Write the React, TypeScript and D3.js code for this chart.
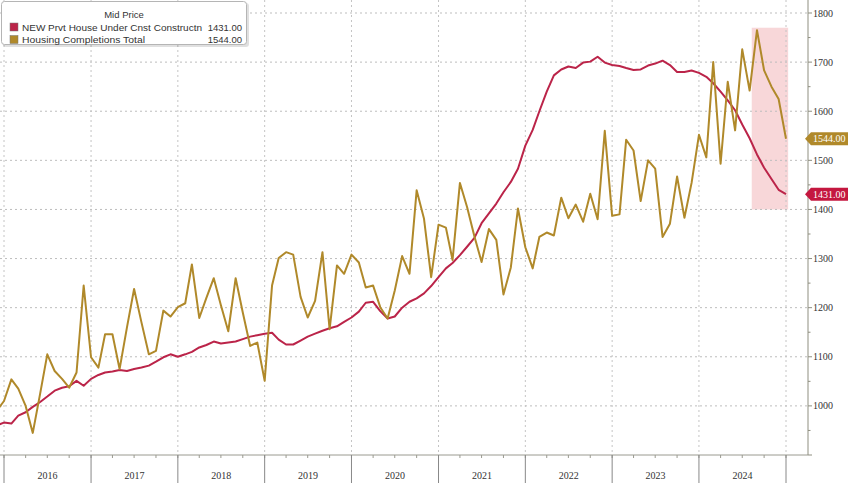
import React from "react";
import * as d3 from "d3";

// ---- data (monthly, first month = Nov 2015) ----
const startMonth = "2015-11";
const underConstruction = [
  960,
  966, 964, 980, 987, 998, 1008, 1019, 1031, 1037, 1040, 1051, 1041,
  1055, 1063, 1068, 1070, 1073, 1071, 1075, 1078, 1082, 1090, 1099, 1105,
  1100, 1105, 1110, 1119, 1124, 1131, 1127, 1129, 1131, 1136, 1141, 1144,
  1147, 1149, 1135, 1125, 1125, 1133, 1141, 1147, 1153, 1158, 1162, 1171,
  1180, 1192, 1210, 1212, 1193, 1178, 1182, 1200, 1212, 1219, 1229, 1244,
  1262, 1280, 1291, 1307, 1324, 1342, 1372, 1392, 1412, 1435, 1456, 1483,
  1530, 1562, 1600, 1640, 1673, 1685, 1691, 1688, 1699, 1701, 1711, 1699,
  1694, 1692, 1688, 1684, 1685, 1693, 1697, 1703, 1694, 1680, 1680, 1683,
  1678, 1670, 1657, 1640, 1622, 1602, 1573, 1545, 1512, 1485, 1462, 1440,
  1431,
];
const completions = [
  990,
  1010, 1054, 1035, 1000, 945, 1025, 1105, 1071, 1055, 1037, 1068, 1245,
  1099, 1078, 1146, 1146, 1075, 1160, 1238, 1170, 1105, 1112, 1194, 1182,
  1201, 1209, 1288, 1179, 1220, 1260, 1205, 1152, 1260, 1190, 1122, 1129,
  1051, 1245, 1301, 1313, 1308, 1222, 1180, 1214, 1313, 1156, 1286, 1269,
  1308, 1292, 1241, 1245, 1201, 1178, 1235, 1305, 1269, 1439, 1381, 1262,
  1369, 1363, 1297, 1454, 1405, 1345, 1293, 1360, 1338, 1227, 1282, 1402,
  1323, 1280, 1344, 1353, 1347, 1424, 1382, 1410, 1375, 1432, 1380, 1560,
  1387, 1390, 1542, 1520, 1417, 1500, 1483, 1344, 1371, 1467, 1383, 1454,
  1552, 1506, 1700, 1493, 1660, 1561, 1726, 1642, 1765, 1683, 1650, 1625,
  1544,
];
const seriesNames = ["NEW Prvt House Under Cnst Constructn", "Housing Completions Total"];
const seriesColors = ["#bb2449", "#b0892a"];
const legendTitle = "Mid Price";
const yTicks = [1000, 1100, 1200, 1300, 1400, 1500, 1600, 1700, 1800];
const yearLabels = ["2016", "2017", "2018", "2019", "2020", "2021", "2022", "2023", "2024"];
const shadeDates = ["2024-08-10", "2025-01-10"];
const shadeValues = [1400, 1770];

const W = 848;
const H = 483;
const plotRight = 808;
const plotBottom = 455;

export default function App() {
  const parseM = d3.timeParse("%Y-%m");
  const parseD = d3.timeParse("%Y-%m-%d");
  const start = parseM(startMonth)!;
  // monthly observations plotted at month end
  const dates = completions.map((_, i) => d3.timeMonth.offset(start, i + 1));

  const x = d3
    .scaleTime()
    .domain([new Date(2016, 0, 1), new Date(2025, 0, 1)])
    .range([4, 786]);
  const y = d3.scaleLinear().domain([900, 1800]).range([plotBottom, 13]);

  const line = d3
    .line<number>()
    .x((_, i) => x(dates[i]))
    .y((d) => y(d));

  const yearBounds = d3.timeYear.range(new Date(2016, 0, 1), new Date(2025, 0, 2));
  const quarterTicks = d3.timeMonth.every(3)!.range(new Date(2016, 0, 1), new Date(2025, 0, 2));
  const minorY = d3.range(950, 1800, 100);

  const fmt = d3.format(".2f");
  const lastVals = [underConstruction[underConstruction.length - 1], completions[completions.length - 1]];

  const axisFont = "'Liberation Serif', 'DejaVu Serif', serif";
  const legendFont = "'Liberation Sans', Arial, sans-serif";

  const tag = (v: number, color: string, label: string) => {
    const cy = y(v);
    const h = 6.5;
    return (
      <g key={label}>
        <path
          d={`M${plotRight - 3},${cy} L${plotRight + 3},${cy - h} L${W},${cy - h} L${W},${cy + h} L${plotRight + 3},${cy + h} Z`}
          fill={color}
        />
        <text x={plotRight + 5} y={cy + 3.6} fill="#fff" fontSize={10} fontFamily={axisFont}>
          {label}
        </text>
      </g>
    );
  };

  return (
    <div style={{ position: "fixed", left: 0, top: 0, width: W, height: H, background: "#fff" }}>
      <svg width={W} height={H} style={{ display: "block" }}>
        <defs>
          <clipPath id="plotClip">
            <rect x={0} y={0} width={plotRight} height={plotBottom} />
          </clipPath>
        </defs>
        <rect x={0} y={0} width={W} height={H} fill="#fff" />

        {/* shaded region */}
        <rect
          x={x(parseD(shadeDates[0])!)}
          y={y(shadeValues[1])}
          width={x(parseD(shadeDates[1])!) - x(parseD(shadeDates[0])!)}
          height={y(shadeValues[0]) - y(shadeValues[1])}
          fill="#f6c9cc"
          opacity={0.75}
        />

        {/* gridlines */}
        {yTicks.map((t) => (
          <line key={"gy" + t} x1={0} x2={plotRight} y1={y(t)} y2={y(t)} stroke="#bdbdbd" strokeDasharray="2,3" />
        ))}
        {yearBounds.map((d, i) => (
          <line key={"gx" + i} x1={x(d)} x2={x(d)} y1={0} y2={plotBottom} stroke="#c4c4c4" strokeDasharray="2,3" />
        ))}

        {/* series */}
        <g clipPath="url(#plotClip)">
          <path d={line(underConstruction) || ""} fill="none" stroke={seriesColors[0]} strokeWidth={2} strokeLinejoin="round" />
          <path d={line(completions) || ""} fill="none" stroke={seriesColors[1]} strokeWidth={2} strokeLinejoin="round" />
        </g>

        {/* bottom axis */}
        <line x1={0} x2={plotRight} y1={plotBottom} y2={plotBottom} stroke="#9a9a90" />
        {quarterTicks.map((d, i) => (
          <line key={"qt" + i} x1={x(d)} x2={x(d)} y1={plotBottom} y2={plotBottom + 3} stroke="#9a9a90" />
        ))}
        {yearBounds.map((d, i) => (
          <line key={"yd" + i} x1={x(d)} x2={x(d)} y1={plotBottom} y2={H} stroke="#888" />
        ))}
        {yearLabels.map((lab, i) => (
          <text
            key={lab}
            x={(x(yearBounds[i]) + x(yearBounds[i + 1])) / 2}
            y={479}
            textAnchor="middle"
            fontSize={10}
            fontFamily={axisFont}
            fill="#333"
          >
            {lab}
          </text>
        ))}

        {/* right axis */}
        <line x1={plotRight} x2={plotRight} y1={0} y2={plotBottom} stroke="#8f8f80" />
        {yTicks.map((t) => (
          <g key={"yt" + t}>
            <line x1={plotRight} x2={plotRight + 4} y1={y(t)} y2={y(t)} stroke="#8f8f80" />
            <text x={plotRight + 5} y={y(t) + 3.5} fontSize={10} fontFamily={axisFont} fill="#333">
              {t}
            </text>
          </g>
        ))}
        {minorY.map((t) => (
          <line key={"my" + t} x1={plotRight} x2={plotRight + 2.5} y1={y(t)} y2={y(t)} stroke="#8f8f80" />
        ))}
        <line x1={plotRight} x2={plotRight + 4} y1={plotBottom} y2={plotBottom} stroke="#8f8f80" />

        {/* last value tags */}
        {tag(lastVals[1], seriesColors[1], fmt(lastVals[1]))}
        {tag(lastVals[0], "#c4173f", fmt(lastVals[0]))}

        {/* legend */}
        <rect x={3} y={3} width={246} height={44} rx={3} fill="#000" opacity={0.12} />
        <rect x={1.5} y={1.5} width={245} height={43} rx={3} fill="#fff" stroke="#b5b5b5" />
        <text x={124} y={18} textAnchor="middle" fontSize={9.5} fontFamily={legendFont} fill="#333">
          {legendTitle}
        </text>
        {seriesNames.map((name, i) => (
          <g key={name}>
            <rect x={10} y={23 + i * 12.5} width={8} height={8} fill={seriesColors[i]} stroke="#777" strokeWidth={0.5} />
            <text
              x={22}
              y={30.5 + i * 12.5}
              fontSize={9.5}
              fontFamily={legendFont}
              fill="#333"
              textLength={i === 0 ? 180 : 123}
              lengthAdjust="spacingAndGlyphs"
            >
              {name}
            </text>
            <text x={242} y={30.5 + i * 12.5} textAnchor="end" fontSize={9.5} fontFamily={legendFont} fill="#333">
              {fmt(lastVals[i])}
            </text>
          </g>
        ))}
      </svg>
    </div>
  );
}
